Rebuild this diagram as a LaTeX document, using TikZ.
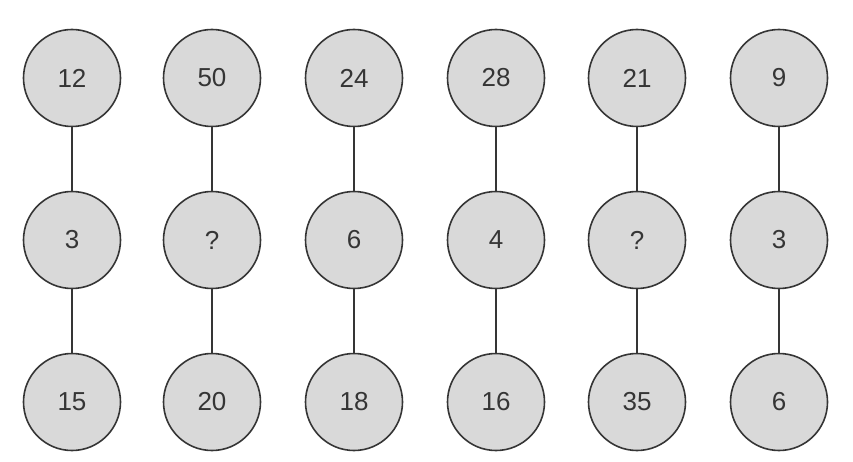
\documentclass[tikz,border=0pt]{standalone}
\usepackage{fontspec}
\setmainfont{Liberation Sans}
\definecolor{cfill}{HTML}{D9D9D9}
\definecolor{cline}{HTML}{353535}
\begin{document}
\begin{tikzpicture}[x=1pt,y=-1pt,
  ball/.style={circle,draw=cline,fill=cfill,line width=1.6pt,minimum size=97pt,inner sep=0pt,
    font=\fontsize{26}{26}\selectfont,text=cline},
  link/.style={draw=cline,line width=1.6pt}]
\useasboundingbox (0,0) rectangle (853,462);
\node[ball] (a1) at (72,78) {12};
\node[ball] (b1) at (72,240) {3};
\node[ball] (c1) at (72,402) {15};
\node[ball] (a2) at (212,78) {50};
\node[ball] (b2) at (212,240) {?};
\node[ball] (c2) at (212,402) {20};
\node[ball] (a3) at (354,78) {24};
\node[ball] (b3) at (354,240) {6};
\node[ball] (c3) at (354,402) {18};
\node[ball] (a4) at (496,78) {28};
\node[ball] (b4) at (496,240) {4};
\node[ball] (c4) at (496,402) {16};
\node[ball] (a5) at (637,78) {21};
\node[ball] (b5) at (637,240) {?};
\node[ball] (c5) at (637,402) {35};
\node[ball] (a6) at (779,78) {9};
\node[ball] (b6) at (779,240) {3};
\node[ball] (c6) at (779,402) {6};
\foreach \i in {1,...,6}{
  \draw[link] (a\i) -- (b\i);
  \draw[link] (b\i) -- (c\i);
}
\end{tikzpicture}
\end{document}
